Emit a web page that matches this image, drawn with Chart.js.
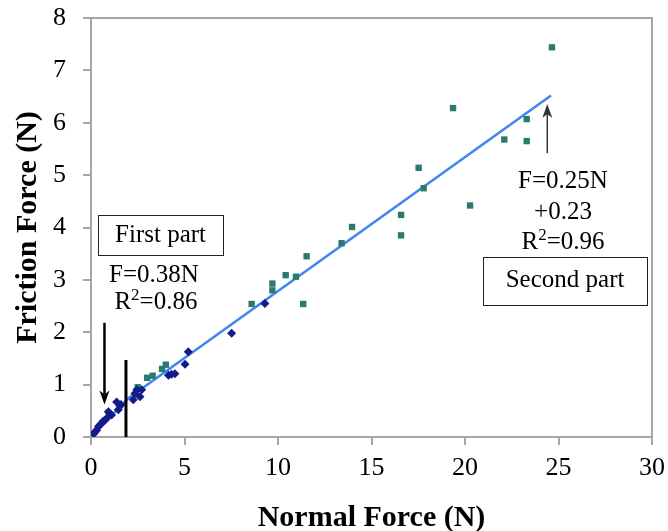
<!DOCTYPE html>
<html>
<head>
<meta charset="utf-8">
<script src="https://cdn.jsdelivr.net/npm/chart.js@4"></script>
<style>
  html, body { margin: 0; padding: 0; background: #fff; }
  #wrap { width: 668px; height: 531px; }
</style>
</head>
<body>
<div id="wrap"><canvas id="chart" width="668" height="531"></canvas></div>
<script>
// first part (diamonds)
const firstX = [0.15, 0.22, 0.3, 0.4, 0.48, 0.55, 0.65, 0.75, 0.84, 0.93, 1.0, 1.1, 1.37, 1.46, 1.55, 1.6, 2.26, 2.35, 2.45, 2.62, 2.71, 4.14, 4.3, 4.49, 5.03, 5.2, 7.52, 9.3];
const firstY = [0.06, 0.10, 0.13, 0.2, 0.23, 0.26, 0.3, 0.32, 0.36, 0.48, 0.45, 0.42, 0.67, 0.52, 0.59, 0.62, 0.71, 0.83, 0.9, 0.77, 0.9, 1.18, 1.2, 1.21, 1.39, 1.63, 1.98, 2.55];

// second part (squares)
const secondX = [2.5, 3.0, 3.3, 3.8, 4.0, 8.59, 9.7, 9.7, 10.41, 10.96, 11.35, 11.53, 13.4, 13.96, 16.58, 16.58, 17.52, 17.79, 19.36, 20.27, 22.1, 23.3, 23.3, 24.65];
const secondY = [0.95, 1.13, 1.17, 1.30, 1.38, 2.54, 2.93, 2.80, 3.09, 3.06, 2.54, 3.45, 3.70, 4.01, 4.24, 3.85, 5.14, 4.75, 6.28, 4.42, 5.68, 6.07, 5.65, 7.44];

// trend line
const trendX = [0.2, 2.0, 24.6];
const trendY = [0.08, 0.74, 6.52];

const xTicks = [0, 5, 10, 15, 20, 25, 30];
const yTicks = [0, 1, 2, 3, 4, 5, 6, 7, 8];

// annotations, in data units
const divider = { x: 1.87, y0: 0, y1: 1.47 };
const arrowDown = { x: 0.72, from: 2.18, to: 0.62 };
const arrowUp = { x: 24.4, from: 5.42, to: 6.36 };
const boxes = [
  { text: "First part", x: 3.72, y: 3.85, w: 125, h: 40 },
  { text: "Second part", x: 25.35, y: 2.98, w: 164, h: 48 },
];
const labels = [
  { text: "F=0.38N", x: 3.37, y: 3.09 },
  { text: "R|2|=0.86", x: 3.47, y: 2.56 },
  { text: "F=0.25N", x: 25.24, y: 4.87 },
  { text: "+0.23", x: 25.24, y: 4.29 },
  { text: "R|2|=0.96", x: 25.24, y: 3.72 },
];

const serif = "'Liberation Serif', 'Times New Roman', serif";

function toPoints(xs, ys) {
  return xs.map((x, i) => ({ x: x, y: ys[i] }));
}

function drawArrow(ctx, x, y0, y1) {
  const dir = y1 > y0 ? 1 : -1;
  ctx.beginPath();
  ctx.moveTo(x, y0);
  ctx.lineTo(x, y1 - dir * 10);
  ctx.stroke();
  ctx.beginPath();
  ctx.moveTo(x, y1);
  ctx.lineTo(x - 5, y1 - dir * 14);
  ctx.lineTo(x, y1 - dir * 10);
  ctx.lineTo(x + 5, y1 - dir * 14);
  ctx.closePath();
  ctx.fill();
}

function drawLabel(ctx, text, cx, cy) {
  // "R|2|=0.86" -> R, superscript 2, =0.86
  const parts = text.split("|");
  const big = "25px " + serif;
  const small = "17px " + serif;
  let total = 0;
  parts.forEach((p, i) => {
    ctx.font = i % 2 ? small : big;
    total += ctx.measureText(p).width;
  });
  let x = cx - total / 2;
  ctx.textAlign = "left";
  ctx.textBaseline = "middle";
  parts.forEach((p, i) => {
    ctx.font = i % 2 ? small : big;
    ctx.fillText(p, x, i % 2 ? cy - 7 : cy);
    x += ctx.measureText(p).width;
  });
}

const annotate = {
  id: "annotate",
  beforeDatasetsDraw(chart) {
    const { ctx, chartArea: a } = chart;
    ctx.save();
    ctx.strokeStyle = "#a6a6a6";
    ctx.lineWidth = 2;
    ctx.beginPath();
    ctx.moveTo(a.left, a.top);
    ctx.lineTo(a.right, a.top);
    ctx.lineTo(a.right, a.bottom);
    ctx.stroke();
    ctx.restore();
  },
  afterDatasetsDraw(chart) {
    const { ctx } = chart;
    const sx = chart.scales.x, sy = chart.scales.y;
    ctx.save();
    ctx.strokeStyle = "#000";
    ctx.fillStyle = "#000";
    ctx.lineWidth = 3;
    ctx.beginPath();
    ctx.moveTo(sx.getPixelForValue(divider.x), sy.getPixelForValue(divider.y0));
    ctx.lineTo(sx.getPixelForValue(divider.x), sy.getPixelForValue(divider.y1));
    ctx.stroke();

    ctx.lineWidth = 2.5;
    drawArrow(ctx, sx.getPixelForValue(arrowDown.x), sy.getPixelForValue(arrowDown.from), sy.getPixelForValue(arrowDown.to));
    ctx.strokeStyle = "#333";
    ctx.fillStyle = "#333";
    ctx.lineWidth = 1.5;
    drawArrow(ctx, sx.getPixelForValue(arrowUp.x), sy.getPixelForValue(arrowUp.from), sy.getPixelForValue(arrowUp.to));

    ctx.fillStyle = "#000";
    ctx.strokeStyle = "#222";
    ctx.lineWidth = 1;
    boxes.forEach((b) => {
      const cx = sx.getPixelForValue(b.x), cy = sy.getPixelForValue(b.y);
      ctx.fillStyle = "#fff";
      ctx.fillRect(cx - b.w / 2, cy - b.h / 2, b.w, b.h);
      ctx.strokeRect(Math.round(cx - b.w / 2) + 0.5, Math.round(cy - b.h / 2) + 0.5, b.w, b.h);
      ctx.fillStyle = "#000";
      drawLabel(ctx, b.text, cx, cy);
    });
    labels.forEach((l) => {
      drawLabel(ctx, l.text, sx.getPixelForValue(l.x), sy.getPixelForValue(l.y));
    });
    ctx.restore();
  },
};

new Chart(document.getElementById("chart"), {
  type: "scatter",
  data: {
    datasets: [
      {
        type: "line",
        label: "trend",
        data: toPoints(trendX, trendY),
        borderColor: "#3f86ee",
        borderWidth: 2.5,
        pointRadius: 0,
        fill: false,
        order: 3,
      },
      {
        label: "First part",
        data: toPoints(firstX, firstY),
        pointStyle: "rectRot",
        pointRadius: 4.5,
        backgroundColor: "#141c8c",
        borderColor: "#141c8c",
        borderWidth: 0,
        order: 1,
      },
      {
        label: "Second part",
        data: toPoints(secondX, secondY),
        pointStyle: "rect",
        pointRadius: 4.5,
        backgroundColor: "#2b7a72",
        borderColor: "#2b7a72",
        borderWidth: 0,
        order: 2,
      },
    ],
  },
  options: {
    responsive: false,
    animation: false,
    layout: { padding: { top: 18, right: 16, left: 0, bottom: 0 } },
    plugins: {
      legend: { display: false },
      tooltip: { enabled: false },
    },
    scales: {
      x: {
        type: "linear",
        min: 0,
        max: 30,
        afterBuildTicks: (s) => { s.ticks = xTicks.map((v) => ({ value: v })); },
        afterFit: (s) => { s.height = 94; s.paddingLeft = 0; s.paddingRight = 0; },
        ticks: { color: "#000", padding: 8, font: { family: serif, size: 26 } },
        grid: { drawOnChartArea: false, drawTicks: true, tickLength: 8, color: "#a6a6a6", lineWidth: 2 },
        border: { color: "#a6a6a6", width: 2 },
        title: {
          display: true,
          text: "Normal Force (N)",
          color: "#000",
          padding: { top: 0, bottom: -5 },
          font: { family: serif, size: 30, weight: "bold" },
        },
      },
      y: {
        type: "linear",
        min: 0,
        max: 8,
        afterBuildTicks: (s) => { s.ticks = yTicks.map((v) => ({ value: v })); },
        afterFit: (s) => { s.width = 91; s.paddingTop = 0; s.paddingBottom = 0; },
        ticks: { color: "#000", padding: 17, font: { family: serif, size: 26 } },
        grid: { drawOnChartArea: false, drawTicks: true, tickLength: 8, color: "#a6a6a6", lineWidth: 2 },
        border: { color: "#a6a6a6", width: 2 },
        title: {
          display: true,
          text: "Friction Force (N)",
          color: "#000",
          padding: { top: 10, bottom: 0 },
          font: { family: serif, size: 30, weight: "bold" },
        },
      },
    },
  },
  plugins: [annotate],
});
</script>
</body>
</html>
